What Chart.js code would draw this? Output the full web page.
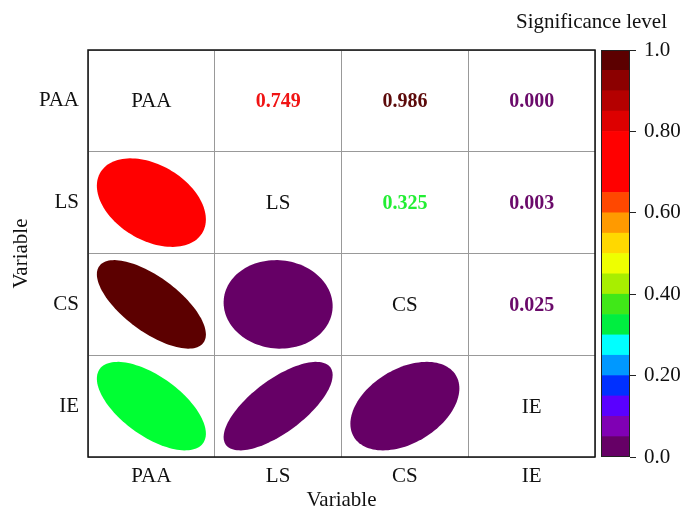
<!DOCTYPE html>
<html>
<head>
<meta charset="utf-8">
<script src="https://cdn.jsdelivr.net/npm/chart.js@4"></script>
<style>
  body { margin: 0; background: #fff; }
  #wrap { position: relative; width: 683px; height: 506px; overflow: hidden; }
  #corr { position: absolute; left: 0; top: 0; }
  #bar { position: absolute; left: 510px; top: 0; }
</style>
</head>
<body>
<div id="wrap">
  <canvas id="corr" width="683" height="506"></canvas>
  <canvas id="bar" width="173" height="506"></canvas>
</div>
<script>
// variables of the matrix
const variables = ['PAA', 'LS', 'CS', 'IE'];

// upper triangle: significance values shown as text
const upperRow = [0, 0, 0, 1, 1, 2];
const upperCol = [1, 2, 3, 2, 3, 3];
const upperText = ['0.749', '0.986', '0.000', '0.325', '0.003', '0.025'];
const upperColor = ['#f01414', '#5c0a0a', '#6a0a6a', '#22ee33', '#6a0a6a', '#6a0a6a'];

// lower triangle: ellipses (shape from r, colour from level)
const lowerRow = [1, 2, 3, 2, 3, 3];
const lowerCol = [0, 0, 0, 1, 1, 2];
const lowerR = [-0.38, -0.68, -0.62, -0.04, 0.7, 0.4];
const lowerColor = ['#ff0000', '#5c0000', '#00ff33', '#660066', '#660066', '#660066'];

// colour bar
const levels = [0, 0.05, 0.1, 0.15, 0.2, 0.25, 0.3, 0.35, 0.4, 0.45, 0.5,
  0.55, 0.6, 0.65, 0.7, 0.75, 0.8, 0.85, 0.9, 0.95, 1.0];
const levelColors = ['#660066', '#8000b4', '#5a00ff', '#0030ff', '#0098ff',
  '#00ffff', '#00ee40', '#40e818', '#a8ee00', '#eeff00', '#ffd800', '#ff9a00',
  '#ff4800', '#ff0000', '#ff0000', '#ff0000', '#dd0000', '#b40000', '#8c0000', '#5c0000'];
const barTicks = [0, 0.2, 0.4, 0.6, 0.8, 1.0];
const barTickLabels = ['0.0', '0.20', '0.40', '0.60', '0.80', '1.0'];
const barTitle = 'Significance level';

const serif = 'Liberation Serif';
const fs = 21;

const matrixPlugin = {
  id: 'matrix',
  afterDatasetsDraw(chart) {
    const ctx = chart.ctx;
    const xs = chart.scales.x, ys = chart.scales.y;
    const cw = xs.width / variables.length, ch = ys.height / variables.length;
    ctx.save();
    ctx.textAlign = 'center';
    ctx.textBaseline = 'middle';
    // diagonal names
    ctx.font = fs + 'px "' + serif + '"';
    ctx.fillStyle = '#111';
    variables.forEach((v, i) => {
      ctx.fillText(v, xs.getPixelForValue(i), ys.getPixelForValue(i) + 1);
    });
    // upper values
    ctx.font = 'bold ' + (fs - 1) + 'px "' + serif + '"';
    upperText.forEach((t, k) => {
      ctx.fillStyle = upperColor[k];
      ctx.fillText(t, xs.getPixelForValue(upperCol[k]), ys.getPixelForValue(upperRow[k]) + 1);
    });
    // lower ellipses
    lowerR.forEach((r, k) => {
      const cx = xs.getPixelForValue(lowerCol[k]);
      const cy = ys.getPixelForValue(lowerRow[k]);
      const hw = cw / 2 * 0.86, hh = ch / 2 * 0.87;
      const d = Math.acos(r);
      ctx.beginPath();
      for (let s = 0; s <= 120; s++) {
        const t = s / 120 * Math.PI * 2;
        const px = cx + Math.cos(t + d / 2) * hw;
        const py = cy - Math.cos(t - d / 2) * hh;
        if (s === 0) ctx.moveTo(px, py); else ctx.lineTo(px, py);
      }
      ctx.closePath();
      ctx.fillStyle = lowerColor[k];
      ctx.fill();
    });
    // frame
    const a = chart.chartArea;
    ctx.strokeStyle = '#111';
    ctx.lineWidth = 1.5;
    ctx.strokeRect(a.left, a.top, a.right - a.left, a.bottom - a.top);
    ctx.restore();
  }
};

new Chart(document.getElementById('corr'), {
  type: 'scatter',
  data: { datasets: [] },
  options: {
    responsive: false,
    animation: false,
    layout: { padding: { left: 0, top: 50, right: 88, bottom: 0 } },
    plugins: { legend: { display: false }, tooltip: { enabled: false } },
    scales: {
      x: {
        type: 'category',
        labels: variables,
        offset: true,
        grid: { offset: true, color: '#999', drawTicks: false },
        border: { display: false },
        ticks: { color: '#111', font: { family: serif, size: fs }, padding: 7 },
        title: { display: true, text: 'Variable', color: '#111',
          font: { family: serif, size: fs }, padding: { top: 0, bottom: -7 } },
        afterFit(s) { s.height = 49; }
      },
      y: {
        type: 'category',
        labels: variables,
        offset: true,
        grid: { offset: true, color: '#999', drawTicks: false },
        border: { display: false },
        ticks: { color: '#111', font: { family: serif, size: fs }, padding: 9 },
        title: { display: true, text: 'Variable', color: '#111',
          font: { family: serif, size: fs }, padding: { top: 9, bottom: 0 } },
        afterFit(s) { s.width = 88; }
      }
    }
  },
  plugins: [matrixPlugin]
});

const framePlugin = {
  id: 'frame',
  afterDatasetsDraw(chart) {
    const a = chart.chartArea, ctx = chart.ctx;
    ctx.save();
    ctx.strokeStyle = '#222';
    ctx.lineWidth = 1;
    ctx.strokeRect(a.left + 0.5, a.top + 0.5, a.right - a.left - 1, a.bottom - a.top - 1);
    // colour bar heading, centred over the bar
    ctx.fillStyle = '#111';
    ctx.font = fs + 'px "' + serif + '"';
    ctx.textAlign = 'center';
    ctx.textBaseline = 'middle';
    ctx.fillText(barTitle, chart.width / 2 - 5, 22);
    ctx.restore();
  }
};

new Chart(document.getElementById('bar'), {
  type: 'bar',
  data: {
    labels: [''],
    datasets: levelColors.map((c, i) => ({
      data: [[levels[i], levels[i + 1]]],
      backgroundColor: c,
      borderWidth: 0,
      barPercentage: 1,
      categoryPercentage: 1,
      grouped: false
    }))
  },
  options: {
    responsive: false,
    animation: false,
    layout: { padding: { left: 91, right: 0, top: 50, bottom: 49 } },
    plugins: {
      legend: { display: false },
      tooltip: { enabled: false },
      title: { display: false }
    },
    scales: {
      x: { display: false },
      y: {
        position: 'right',
        min: 0, max: 1,
        afterBuildTicks(s) { s.ticks = barTicks.map(v => ({ value: v })); },
        ticks: {
          color: '#111', font: { family: serif, size: fs }, padding: 8,
          callback: (v) => barTickLabels[barTicks.indexOf(v)]
        },
        grid: { drawOnChartArea: false, drawTicks: true, tickLength: 6, color: '#222' },
        border: { display: false },
        afterFit(s) { s.width = 53; }
      }
    }
  },
  plugins: [framePlugin]
});
</script>
</body>
</html>
